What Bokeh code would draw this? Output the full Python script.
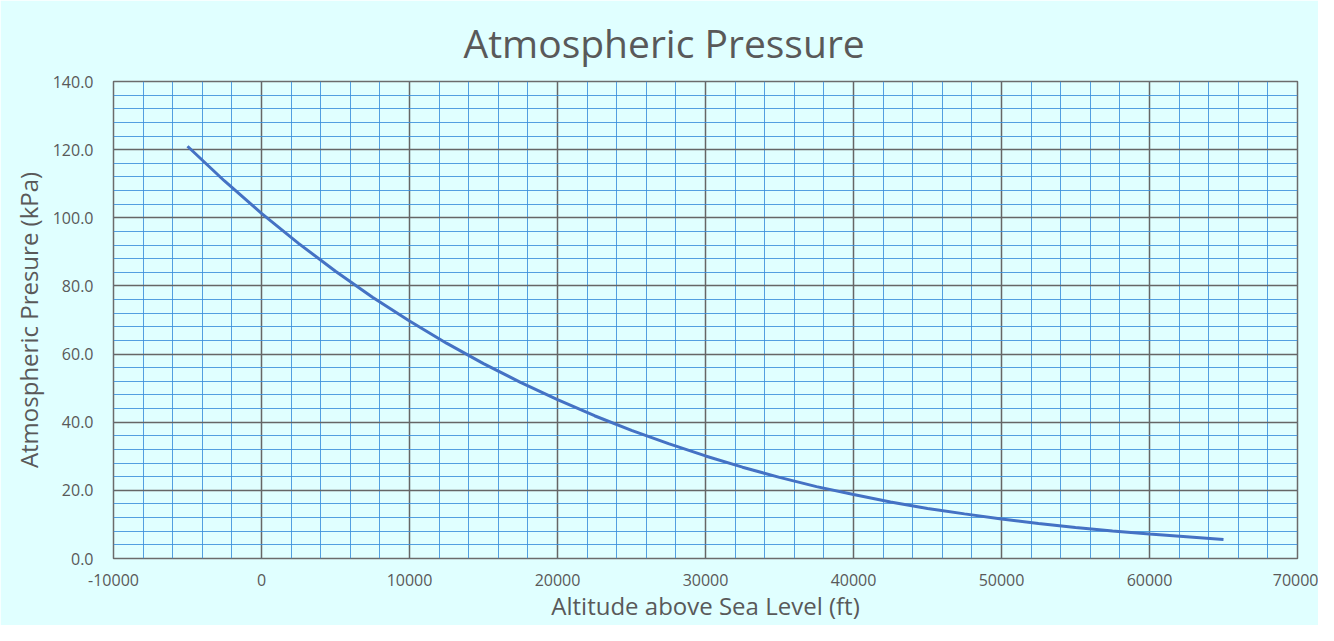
from bokeh.plotting import figure
from bokeh.models import Range1d, SingleIntervalTicker, NumeralTickFormatter
from bokeh.embed import file_html
from bokeh.resources import INLINE

altitude_ft = [-5000, -2500, 0, 2500, 5000, 7500, 10000, 12500, 15000, 17500,
               20000, 22500, 25000, 27500, 30000, 32500, 35000, 37500, 40000,
               42500, 45000, 47500, 50000, 52500, 55000, 57500, 60000, 62500, 65000]
pressure_kpa = [121.0, 110.8, 101.3, 92.5, 84.3, 76.7, 69.7, 63.2, 57.2, 51.7,
                46.6, 41.9, 37.6, 33.7, 30.1, 26.8, 23.8, 21.1, 18.8,
                16.6, 14.7, 13.1, 11.6, 10.3, 9.1, 8.1, 7.2, 6.4, 5.6]

title_text = "Atmospheric Pressure"
x_label = "Altitude above Sea Level (ft)"
y_label = "Atmospheric Presure (kPa)"

BG = "#E0FFFF"
TXT = "#595959"
FONT = "Open Sans"

p = figure(width=1318, height=625, output_backend="svg", toolbar_location=None,
           x_range=Range1d(-10000, 70000), y_range=Range1d(0, 140),
           min_border_left=113, min_border_right=21, min_border_top=81, min_border_bottom=67)

p.background_fill_color = BG
p.border_fill_color = BG
p.outline_line_color = "#6b6b6b"
p.outline_line_width = 1.5

p.title.text = title_text
p.title.align = "left"
p.title.offset = 350
p.title.standoff = 26
p.title.text_font = FONT
p.title.text_font_size = "39px"
p.title.text_font_style = "normal"
p.title.text_color = TXT

p.line(altitude_ft, pressure_kpa, line_color="#4472C4", line_width=3)

xt = SingleIntervalTicker(interval=10000, num_minor_ticks=5)
yt = SingleIntervalTicker(interval=20, num_minor_ticks=5)
p.xaxis.ticker = xt
p.yaxis.ticker = yt
p.xgrid.ticker = xt
p.ygrid.ticker = yt
p.xaxis.formatter = NumeralTickFormatter(format="0")
p.yaxis.formatter = NumeralTickFormatter(format="0.0")

for ax in (p.xaxis, p.yaxis):
    ax.axis_line_color = None
    ax.major_tick_line_color = None
    ax.minor_tick_line_color = None
    ax.major_label_text_font = FONT
    ax.major_label_text_font_size = "16px"
    ax.major_label_text_color = TXT
    ax.axis_label_text_font = FONT
    ax.axis_label_text_font_size = "24px"
    ax.axis_label_text_font_style = "normal"
    ax.axis_label_text_color = TXT

p.yaxis.major_label_standoff = 14
p.xaxis.major_label_standoff = 9
p.xaxis.axis_label = x_label
p.yaxis.axis_label = y_label
p.xaxis.axis_label_standoff = 0
p.yaxis.axis_label_standoff = 5

for g in (p.xgrid, p.ygrid):
    g.grid_line_color = "#666666"
    g.grid_line_width = 1.5
    g.minor_grid_line_color = "#3A8EDB"
    g.minor_grid_line_width = 1
    g.minor_grid_line_alpha = 0.85

open("out.html", "w").write(file_html(p, INLINE))
